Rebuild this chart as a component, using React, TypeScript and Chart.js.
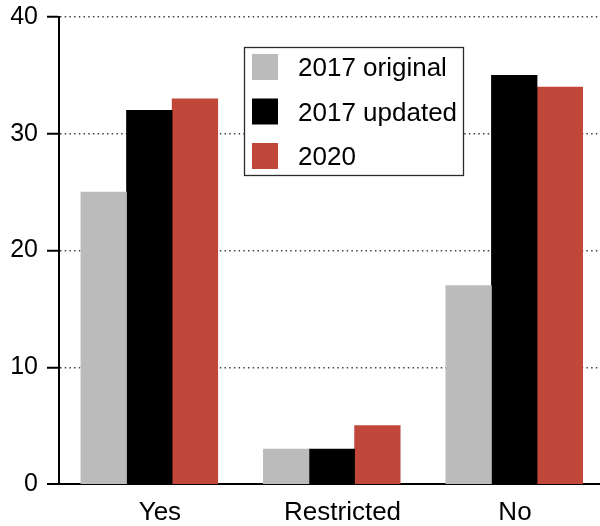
import { useEffect, useRef } from 'react';
import { Chart, registerables } from 'chart.js';

Chart.register(...registerables);

// Survey answers per category, for each survey round
const categories = ['Yes', 'Restricted', 'No'];
const seriesNames = ['2017 original', '2017 updated', '2020'];
const original2017 = [25, 3, 17];
const updated2017 = [32, 3, 35];
const values2020 = [33, 5, 34];
const yTicks = [0, 10, 20, 30, 40];

const SERIES_COLORS = ['#BBBBBB', '#000000', '#C1473B'];
const FONT_FAMILY = '"Liberation Sans", Arial, Helvetica, sans-serif';

// small horizontal nudges (in category units) applied to the category labels
const LABEL_NUDGE = [0.058, 0.059, 0.004];

// Framed legend drawn inside the plot area
const boxLegend = {
  id: 'boxLegend',
  afterDraw(chart: any) {
    const { ctx } = chart;
    const left = 244;
    const top = 47;
    const width = 219;
    const height = 128;
    ctx.save();
    ctx.fillStyle = '#ffffff';
    ctx.fillRect(left, top, width, height);
    ctx.strokeStyle = '#2b2b2b';
    ctx.lineWidth = 1.3;
    ctx.strokeRect(left + 0.5, top + 0.5, width, height);
    ctx.font = `26px ${FONT_FAMILY}`;
    ctx.textBaseline = 'alphabetic';
    ctx.textAlign = 'left';
    chart.data.datasets.forEach((ds: any, i: number) => {
      const cy = top + 20 + i * 44.5;
      ctx.fillStyle = ds.backgroundColor;
      ctx.fillRect(left + 8, cy - 13, 26, 26);
      ctx.fillStyle = '#000000';
      ctx.fillText(ds.label, left + 54, cy + 9.3);
    });
    ctx.restore();
  },
};

export default function App() {
  const canvasRef = useRef<HTMLCanvasElement | null>(null);

  useEffect(() => {
    const canvas = canvasRef.current;
    if (!canvas) return;

    const seriesValues = [original2017, updated2017, values2020];
    const datasets = seriesNames.map((name, s) => ({
      label: name,
      data: categories.map((_, i) => ({ x: i, y: seriesValues[s][i] })),
      backgroundColor: SERIES_COLORS[s],
      borderWidth: 0,
      barThickness: 'flex',
      categoryPercentage: 0.75,
      barPercentage: 1.0,
    }));

    const chart = new Chart(canvas, {
      type: 'bar',
      data: { datasets },
      plugins: [boxLegend],
      options: {
        animation: false,
        responsive: false,
        devicePixelRatio: 1,
        layout: { padding: { top: 17, right: 0, bottom: 0, left: 0 } },
        plugins: {
          legend: { display: false },
          tooltip: { enabled: false },
        },
        scales: {
          x: {
            type: 'linear',
            min: -0.495,
            max: 2.47,
            offset: false,
            bounds: 'data',
            grid: { display: true, drawOnChartArea: false, drawTicks: false },
            border: { display: true, color: '#000000', width: 2 },
            afterBuildTicks: (scale: any) => {
              scale.ticks = categories.map((_, i) => ({ value: i + LABEL_NUDGE[i] }));
            },
            afterFit: (scale: any) => {
              scale.height = 42;
              scale.paddingLeft = 0;
              scale.paddingRight = 0;
            },
            ticks: {
              autoSkip: false,
              maxRotation: 0,
              padding: 13,
              color: '#000000',
              font: { family: FONT_FAMILY, size: 26 },
              callback: (_v: any, index: number) => categories[index],
            },
          },
          y: {
            type: 'linear',
            min: 0,
            max: 40,
            afterBuildTicks: (scale: any) => {
              scale.ticks = yTicks.map((v) => ({ value: v }));
            },
            afterFit: (scale: any) => {
              scale.width = 59;
              scale.paddingTop = 0;
              scale.paddingBottom = 0;
            },
            grid: {
              color: '#444444',
              lineWidth: (c: any) => (c.tick && c.tick.value === 0 ? 0 : 1.5),
              tickColor: '#000000',
              tickWidth: 2,
              tickLength: 12,
              tickBorderDash: [],
            },
            border: { display: true, color: '#000000', width: 2, dash: [1.5, 3.2] },
            ticks: {
              padding: 9,
              color: '#000000',
              font: { family: FONT_FAMILY, size: 25 },
            },
          },
        },
      },
    } as any);

    return () => {
      chart.destroy();
    };
  }, []);

  return (
    <div style={{ position: 'absolute', left: 0, top: 0, width: 600, height: 526, background: '#ffffff' }}>
      <canvas ref={canvasRef} width={600} height={526} style={{ display: 'block' }} />
    </div>
  );
}
